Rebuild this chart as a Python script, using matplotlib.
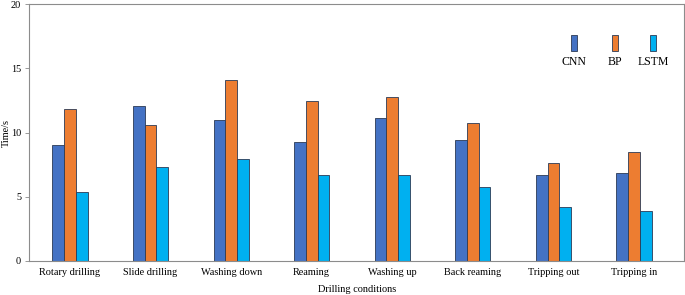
import matplotlib
matplotlib.use("Agg")
import matplotlib.pyplot as plt
import numpy as np
from matplotlib.patches import Rectangle

categories = ["Rotary drilling", "Slide drilling", "Washing down", "Reaming",
              "Washing up", "Back reaming", "Tripping out", "Tripping in"]
cnn = [8.99, 12.10, 10.96, 9.30, 11.14, 9.45, 6.67, 6.83]
bp = [11.81, 10.62, 14.13, 12.46, 12.77, 10.78, 7.66, 8.49]
lstm = [5.33, 7.32, 7.94, 6.65, 6.65, 5.79, 4.18, 3.87]
series_names = ["CNN", "BP", "LSTM"]
colors = ["#4472C4", "#ED7D31", "#00B0F0"]
yticks = [0, 5, 10, 15, 20]

plt.rcParams['font.family'] = ['Liberation Serif', 'DejaVu Serif']
fig = plt.figure(figsize=(6.85, 2.95), dpi=100)
AW, AH = 0.9557 * 685, 0.8687 * 295
ax = fig.add_axes([0.0428, 0.1163, 0.9557, 0.8687])

x = np.arange(len(categories))
w = 0.145
for i, (vals, c) in enumerate(zip([cnn, bp, lstm], colors)):
    ax.bar(x + (i - 1) * w, vals, width=w, color=c, edgecolor="#2B3A55", linewidth=0.6)

ax.set_xlim(-0.505, 7.62)
ax.set_ylim(0, 20)
ax.set_yticks(yticks)
ax.set_xticks(x)
ax.set_xticklabels(categories, fontsize=7.4)
ax.tick_params(axis='y', labelsize=7.4, length=3, color="#888888", width=0.6, pad=3)
ax.tick_params(axis='x', length=0, pad=5)
for s in ax.spines.values():
    s.set_color("#8c8c8c")
    s.set_linewidth(0.8)
ax.set_ylabel("Time/s", fontsize=7.4)
ax.yaxis.set_label_coords((10.5 - 29.3) / AW, 0.5)
ax.set_xlabel("Drilling conditions", fontsize=7.4, labelpad=6)

# legend: handles above labels
lx = [574, 614.7, 653]
for xc, c, name in zip(lx, colors, series_names):
    ax_x = (xc - 29.3) / AW
    x0 = ax_x - 3 / AW
    y0 = (260.7 - 51) / AH
    h = 16 / AH
    ax.add_patch(Rectangle((x0, y0), 6 / AW, h, transform=ax.transAxes,
                           facecolor=c, edgecolor="#2B3A55", linewidth=0.6))
    ax.text(ax_x, (260.7 - 62) / AH, name, transform=ax.transAxes,
            ha='center', va='center', fontsize=8.5)

fig.savefig("out.png", dpi=100)
